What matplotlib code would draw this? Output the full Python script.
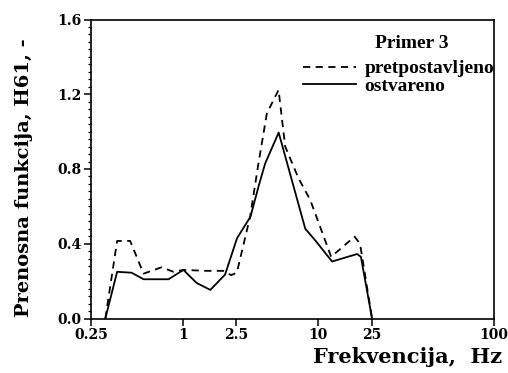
import numpy as np
import matplotlib
matplotlib.use("Agg")
import matplotlib.pyplot as plt
from matplotlib.ticker import FixedLocator, MultipleLocator, FormatStrFormatter

# Frequency response data, Primer 3
freq_ostvareno = [0.31, 0.37, 0.46, 0.55, 0.80, 1.0, 1.26, 1.6, 2.07, 2.55,
                  3.2, 3.66, 4.1, 5.15, 8.07, 9.5, 12.7, 19.4, 20.7, 25.0]
h_ostvareno = [0.0, 0.25, 0.245, 0.21, 0.21, 0.26, 0.19, 0.153, 0.235, 0.43,
               0.545, 0.705, 0.83, 0.995, 0.48, 0.42, 0.305, 0.345, 0.33, 0.0]

freq_pretpostavljeno = [0.31, 0.37, 0.45, 0.55, 0.72, 0.86, 1.0, 1.5, 2.0, 2.3,
                        2.54, 3.18, 3.66, 4.22, 5.14, 5.75, 7.2, 8.78, 12.5,
                        18.6, 20.4, 25.0]
h_pretpostavljeno = [0.0, 0.415, 0.415, 0.24, 0.274, 0.25, 0.26, 0.255, 0.255,
                     0.232, 0.245, 0.545, 0.83, 1.098, 1.223, 0.92, 0.75, 0.634,
                     0.33, 0.438, 0.40, 0.0]

x_ticks = [0.25, 1, 2.5, 10, 25, 100]
x_tick_labels = ["0.25", "1", "2.5", "10", "25", "100"]
y_ticks = [0.0, 0.4, 0.8, 1.2, 1.6]

# Frequency axis: logarithmic within each labelled segment
seg_log = np.log10(np.array(x_ticks, dtype=float))
seg_pos = np.array([0.0, 92.3, 144.7, 226.7, 280.7, 402.5])


def fwd(x):
    x = np.asarray(x, dtype=float)
    lx = np.log10(np.clip(x, 1e-6, None))
    return np.interp(lx, seg_log, seg_pos)


def inv(p):
    p = np.asarray(p, dtype=float)
    return 10 ** np.interp(p, seg_pos, seg_log)


serif = "DejaVu Serif"
legend_font = "Liberation Serif"

fig = plt.figure(figsize=(5.08, 3.73), dpi=100)
ax = fig.add_axes([91 / 508, 1 - 318.5 / 373, (494 - 91) / 508, (318.5 - 19.5) / 373])

ax.set_xscale("function", functions=(fwd, inv))
ax.set_xlim(0.25, 100)
ax.set_ylim(0.0, 1.6)

ax.plot(freq_pretpostavljeno, h_pretpostavljeno, color="black", lw=1.3,
        ls=(0, (4, 3)), label="pretpostavljeno")
ax.plot(freq_ostvareno, h_ostvareno, color="black", lw=1.3, label="ostvareno")

ax.xaxis.set_major_locator(FixedLocator(x_ticks))
ax.set_xticklabels(x_tick_labels)
ax.xaxis.set_minor_locator(FixedLocator([]))
ax.yaxis.set_major_locator(FixedLocator(y_ticks))
ax.yaxis.set_major_formatter(FormatStrFormatter("%.1f"))
ax.yaxis.set_minor_locator(MultipleLocator(0.04))

ax.tick_params(axis="both", which="major", direction="out", length=5, width=1.1,
               pad=2, labelsize=10)
ax.tick_params(axis="y", which="minor", direction="out", length=2.5, width=0.9)
for lab in ax.get_xticklabels() + ax.get_yticklabels():
    lab.set_fontfamily(serif)
    lab.set_fontweight("bold")

for sp in ax.spines.values():
    sp.set_linewidth(1.2)

ax.set_ylabel("Prenosna funkcija, H61, -", fontfamily=serif, fontweight="bold",
              fontsize=14)
ax.yaxis.set_label_coords(-0.145, 0.47)
ax.set_xlabel("Frekvencija,  Hz", fontfamily=serif, fontweight="bold",
              fontsize=15)
ax.xaxis.set_label_coords(1.02, -0.095)
ax.xaxis.label.set_horizontalalignment("right")
ax.xaxis.label.set_verticalalignment("top")

ax.text(0.795, 0.905, "Primer 3", transform=ax.transAxes, ha="center",
        va="baseline", fontfamily=legend_font, fontweight="bold", fontsize=14)
ax.legend(loc="upper right", bbox_to_anchor=(1.0, 0.865), frameon=False,
          prop={"family": legend_font, "weight": "bold", "size": 14},
          handlelength=2.7, handletextpad=0.45, labelspacing=-0.02,
          borderaxespad=0.0, borderpad=0.0)

fig.savefig("out.png", dpi=100)
